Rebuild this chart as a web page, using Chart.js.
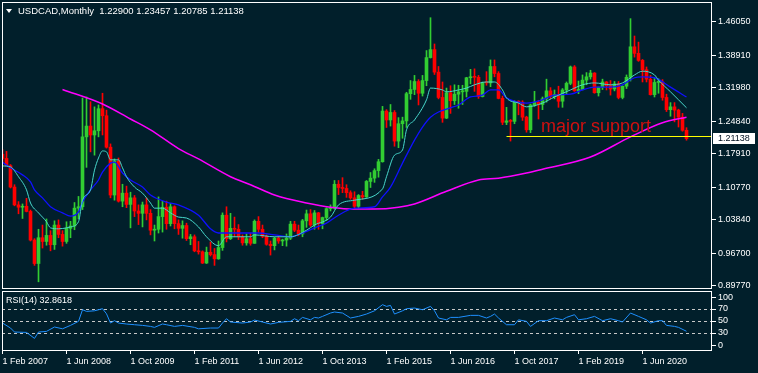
<!DOCTYPE html>
<html>
<head>
<meta charset="utf-8">
<script src="https://cdn.jsdelivr.net/npm/chart.js@4.4.1/dist/chart.umd.min.js"></script>
<style>
  html, body { margin: 0; padding: 0; background: #011f2b; }
  #wrap { position: relative; width: 758px; height: 373px; overflow: hidden; }
  #mainBox { position: absolute; left: 0; top: 0; width: 758px; height: 290px; }
  #rsiBox { position: absolute; left: 0; top: 290px; width: 758px; height: 83px; }
</style>
</head>
<body>
<div id="wrap">
  <div id="mainBox"><canvas id="priceChart"></canvas></div>
  <div id="rsiBox"><canvas id="rsiChart"></canvas></div>
</div>
<script>
// USDCAD monthly, Feb 2007 .. May 2021 (one value per month)
const opens = [
  1.1780,1.1690,1.1535,1.1080,1.0700,1.0650,1.0670,1.0560,0.9950,0.9450,1.0000,
  0.9920,1.0050,0.9850,1.0270,1.0070,0.9920,1.0200,1.0250,1.0630,1.0660,1.2150,1.2380,
  1.2190,1.2280,1.2750,1.2600,1.1930,1.0910,1.1630,1.0780,1.0950,1.0710,1.0850,1.0570,
  1.0520,1.0700,1.0520,1.0160,1.0180,1.0450,1.0650,1.0300,1.0660,1.0300,1.0200,1.0260,
  0.9980,1.0020,0.9720,0.9700,0.9460,0.9690,0.9640,0.9550,0.9790,1.0480,0.9980,1.0200,
  1.0180,1.0020,0.9890,0.9980,0.9880,1.0350,1.0180,1.0030,0.9860,0.9830,0.9990,0.9930,
  0.9950,0.9990,1.0290,1.0160,1.0080,1.0360,1.0510,1.0270,1.0530,1.0300,1.0430,1.0620,
  1.0630,1.1140,1.1070,1.1050,1.0960,1.0850,1.0670,1.0900,1.0870,1.1200,1.1270,1.1430,
  1.1620,1.2700,1.2510,1.2670,1.2060,1.2430,1.2490,1.3070,1.3160,1.3330,1.3080,1.3350,
  1.3840,1.4010,1.3530,1.2990,1.2550,1.3090,1.2920,1.3060,1.3110,1.3120,1.3410,1.3430,
  1.3420,1.3010,1.3310,1.3300,1.3650,1.3500,1.2970,1.2460,1.2490,1.2480,1.2900,1.2890,
  1.2570,1.2300,1.2830,1.2890,1.2840,1.2960,1.3130,1.3010,1.3050,1.2910,1.3150,1.3290,
  1.3640,1.3130,1.3160,1.3360,1.3430,1.3510,1.3090,1.3210,1.3320,1.3240,1.3170,1.3280,
  1.2990,1.3230,1.3420,1.4070,1.3930,1.3780,1.3580,1.3380,1.3050,1.3310,1.3320,1.2990,
  1.2730,1.2790,1.2720,1.2570,1.22900
];
const highs = [
  1.1877,1.1840,1.1560,1.1130,1.0770,1.0720,1.0840,1.0590,0.9980,1.0180,1.0270,
  1.0400,1.0150,1.0360,1.0380,1.0150,1.0340,1.0350,1.0750,1.0880,1.2980,1.3000,1.2900,
  1.2790,1.2830,1.3080,1.2720,1.2000,1.1680,1.1700,1.1140,1.1100,1.0970,1.0900,1.0700,
  1.0760,1.0850,1.0600,1.0270,1.0870,1.0780,1.0780,1.0730,1.0680,1.0380,1.0360,1.0310,
  1.0070,1.0060,0.9920,0.9720,0.9800,0.9910,0.9770,0.9930,1.0530,1.0660,1.0520,1.0440,
  1.0280,1.0060,1.0080,1.0100,1.0380,1.0450,1.0270,1.0060,0.9930,1.0010,1.0050,0.9970,
  1.0080,1.0350,1.0350,1.0270,1.0390,1.0590,1.0600,1.0580,1.0540,1.0440,1.0640,1.0700,
  1.1220,1.1220,1.1280,1.1130,1.1000,1.0980,1.0920,1.0990,1.1220,1.1390,1.1470,1.1670,
  1.2800,1.2730,1.2840,1.2710,1.2560,1.2570,1.3100,1.3350,1.3460,1.3370,1.3460,1.3990,
  1.4690,1.4130,1.3650,1.3320,1.3190,1.3240,1.3260,1.3250,1.3250,1.3420,1.3590,1.3600,
  1.3460,1.3320,1.3540,1.3790,1.3790,1.3540,1.3020,1.2780,1.2520,1.2920,1.2920,1.2920,
  1.2590,1.2850,1.3120,1.2930,1.3000,1.3380,1.3200,1.3150,1.3230,1.3180,1.3320,1.3660,
  1.3670,1.3340,1.3470,1.3520,1.3570,1.3520,1.3210,1.3380,1.3330,1.3350,1.3330,1.3330,
  1.3240,1.3470,1.4670,1.4300,1.4170,1.3800,1.3640,1.3460,1.3420,1.3390,1.3370,1.3060,
  1.2880,1.2880,1.2740,1.2650,1.23457
];
const lows = [
  1.1585,1.1530,1.1060,1.0680,1.0510,1.0410,1.0550,0.9930,0.9410,0.9060,0.9780,
  0.9840,0.9720,0.9750,1.0000,0.9820,0.9880,1.0000,1.0170,1.0400,1.0600,1.1500,1.1830,
  1.1760,1.2150,1.2190,1.1910,1.0850,1.0800,1.0760,1.0660,1.0640,1.0210,1.0450,1.0280,
  1.0230,1.0380,1.0060,0.9930,1.0100,1.0120,1.0180,1.0250,1.0190,1.0070,0.9990,0.9940,
  0.9850,0.9700,0.9650,0.9450,0.9450,0.9610,0.9410,0.9540,0.9730,0.9910,0.9960,1.0020,
  0.9960,0.9840,0.9840,0.9840,0.9880,1.0110,1.0000,0.9840,0.9630,0.9740,0.9880,0.9830,
  0.9820,0.9960,1.0130,1.0040,1.0020,1.0220,1.0240,1.0180,1.0180,1.0190,1.0370,1.0570,
  1.0610,1.0920,1.0960,1.0860,1.0820,1.0620,1.0620,1.0820,1.0860,1.1070,1.1180,1.1290,
  1.1610,1.2350,1.2380,1.1950,1.1920,1.2120,1.2350,1.2950,1.3050,1.2830,1.3020,1.3240,
  1.3830,1.3480,1.2960,1.2460,1.2540,1.2650,1.2840,1.2760,1.2840,1.3000,1.3280,1.3120,
  1.2970,1.3000,1.3250,1.3220,1.3430,1.2960,1.2410,1.2410,1.2060,1.2430,1.2620,1.2500,
  1.2250,1.2240,1.2800,1.2530,1.2730,1.2890,1.2960,1.2960,1.2780,1.2780,1.3050,1.3260,
  1.3120,1.3070,1.3150,1.3260,1.3380,1.3080,1.3020,1.3160,1.3150,1.3040,1.3130,1.2960,
  1.2960,1.3180,1.3340,1.3850,1.3760,1.3320,1.3320,1.3040,1.3000,1.3080,1.2930,1.2690,
  1.2590,1.2470,1.2360,1.2270,1.20785
];
const closes = [
  1.1690,1.1535,1.1080,1.0700,1.0650,1.0670,1.0560,0.9950,0.9450,1.0000,0.9920,
  1.0050,0.9850,1.0270,1.0070,0.9920,1.0200,1.0250,1.0630,1.0660,1.2150,1.2380,1.2190,
  1.2280,1.2750,1.2600,1.1930,1.0910,1.1630,1.0780,1.0950,1.0710,1.0850,1.0570,1.0520,
  1.0700,1.0520,1.0160,1.0180,1.0450,1.0650,1.0300,1.0660,1.0300,1.0200,1.0260,0.9980,
  1.0020,0.9720,0.9700,0.9460,0.9690,0.9640,0.9550,0.9790,1.0480,0.9980,1.0200,1.0180,
  1.0020,0.9890,0.9980,0.9880,1.0350,1.0180,1.0030,0.9860,0.9830,0.9990,0.9930,0.9950,
  0.9990,1.0290,1.0160,1.0080,1.0360,1.0510,1.0270,1.0530,1.0300,1.0430,1.0620,1.0630,
  1.1140,1.1070,1.1050,1.0960,1.0850,1.0670,1.0900,1.0870,1.1200,1.1270,1.1430,1.1620,
  1.2700,1.2510,1.2670,1.2060,1.2430,1.2490,1.3070,1.3160,1.3330,1.3080,1.3350,1.3840,
  1.4010,1.3530,1.2990,1.2550,1.3090,1.2920,1.3060,1.3110,1.3120,1.3410,1.3430,1.3420,
  1.3010,1.3310,1.3300,1.3650,1.3500,1.2970,1.2460,1.2490,1.2480,1.2900,1.2890,1.2570,
  1.2300,1.2830,1.2890,1.2840,1.2960,1.3130,1.3010,1.3050,1.2910,1.3150,1.3290,1.3640,
  1.3130,1.3160,1.3360,1.3430,1.3510,1.3090,1.3210,1.3320,1.3240,1.3170,1.3280,1.2990,
  1.3230,1.3420,1.4070,1.3930,1.3780,1.3580,1.3380,1.3050,1.3310,1.3320,1.2990,1.2730,
  1.2790,1.2720,1.2570,1.2290,1.21138
];

// moving averages: [month index, value]
const fastMA = [
  [0,1.153],[2,1.151],[4,1.130],[6,1.102],[7,1.074],[9,1.053],[11,1.034],[12,1.021],[14,1.019],
  [16,1.021],[17,1.023],[19,1.034],[20,1.080],[22,1.102],[23,1.144],[24,1.170],[25,1.185],[26,1.183],
  [27,1.166],[29,1.166],[30,1.149],[31,1.130],[33,1.108],[35,1.095],[37,1.074],[38,1.063],[40,1.063],
  [42,1.053],[44,1.044],[46,1.042],[49,1.023],[51,1.002],[54,0.983],[56,1.002],[59,1.002],[62,1.002],
  [63,1.006],[68,1.002],[72,1.002],[76,1.016],[78,1.027],[82,1.044],[84,1.070],[88,1.080],[95,1.104],
  [96,1.130],[98,1.176],[100,1.187],[101,1.230],[103,1.251],[106,1.294],[107,1.319],[110,1.315],
  [111,1.311],[114,1.315],[116,1.319],[118,1.326],[121,1.332],[123,1.332],[125,1.315],[126,1.298],
  [129,1.287],[131,1.279],[135,1.287],[138,1.300],[142,1.315],[145,1.326],[148,1.330],[152,1.326],
  [155,1.330],[158,1.347],[160,1.355],[163,1.347],[164,1.336],[167,1.311],[169,1.294],[171,1.277]
];
const slowMA = [
  [0,1.161],[2,1.149],[5,1.134],[7,1.119],[8,1.102],[10,1.085],[12,1.066],[15,1.053],[17,1.046],
  [19,1.055],[20,1.076],[22,1.102],[24,1.123],[25,1.140],[27,1.159],[28,1.161],[30,1.138],[32,1.123],
  [35,1.108],[37,1.091],[41,1.076],[44,1.070],[49,1.048],[52,1.019],[54,1.010],[57,1.010],[62,1.010],
  [64,1.010],[68,1.006],[72,1.002],[75,1.010],[78,1.021],[81,1.031],[84,1.048],[88,1.063],[93,1.066],
  [95,1.087],[97,1.108],[100,1.159],[103,1.208],[105,1.236],[107,1.257],[109,1.268],[112,1.277],
  [114,1.283],[117,1.300],[120,1.304],[122,1.315],[124,1.315],[126,1.298],[131,1.287],[135,1.294],
  [138,1.304],[142,1.306],[145,1.315],[148,1.321],[152,1.321],[155,1.326],[158,1.341],[160,1.343],
  [163,1.341],[167,1.321],[171,1.300]
];
const longMA = [
  [15,1.316],[25,1.285],[32,1.253],[37,1.230],[44,1.190],[49,1.168],[57,1.130],[62,1.113],[68,1.091],
  [76,1.074],[82,1.065],[88,1.061],[93,1.061],[99,1.065],[103,1.072],[111,1.099],[119,1.123],
  [124,1.127],[131,1.138],[135,1.146],[147,1.172],[157,1.215],[165,1.245],[171,1.257]
];

// RSI(14): [month index, value]
const rsiValues = [
  [0,46.6],[2,38.3],[3,31.6],[6,31],[8,21],[9,31.6],[11,32.7],[13,40],[15,37],[17,42.7],[19,49.4],
  [20,68.8],[21,66],[23,67],[25,70.5],[26,62],[27,46.6],[28,50.5],[29,46.6],[31,45],[33,43.8],
  [35,42.7],[37,41],[38,39.4],[40,45],[41,43.8],[43,41],[45,42.7],[48,39.4],[49,37],[52,38.3],
  [54,38.3],[55,46.6],[56,53.8],[57,48.3],[60,46.6],[62,48.3],[63,51.6],[65,48.3],[67,45],[69,47.7],
  [72,49.4],[73,53.8],[74,50.5],[75,56],[77,52],[78,56],[79,55],[80,57.7],[82,63.3],[83,65],
  [85,63.3],[87,55],[89,57.7],[91,61.6],[93,67],[95,77.2],[96,74.4],[97,76],[98,61.6],[100,67],
  [101,70.5],[103,71.6],[105,68.8],[107,74.4],[108,67],[109,55],[111,52],[112,56],[114,56],
  [117,59.4],[119,59.4],[121,55],[122,57.7],[123,61.6],[124,55],[126,43.8],[128,43.8],[129,52],
  [131,49.4],[132,41],[134,50.5],[136,50.5],[138,55],[140,52],[141,56],[143,60.5],[144,52],
  [146,53.8],[148,57.7],[150,50.5],[152,53.8],[154,50.5],[155,48.3],[157,63.3],[159,57.7],
  [161,52],[162,46.6],[164,50.5],[165,50.5],[166,42.7],[168,41],[169,39.4],[171,32.8618]
];

const priceTicks = [0.89770, 0.96700, 1.03840, 1.10770, 1.17910, 1.24840, 1.31980, 1.38910, 1.46050];
const rsiTicks = ['100', '70', '50', '30', '0'];
const rsiLevels = [70, 50, 30];
const dateTicks = ['1 Feb 2007', '1 Jun 2008', '1 Oct 2009', '1 Feb 2011', '1 Jun 2012', '1 Oct 2013',
  '1 Feb 2015', '1 Jun 2016', '1 Oct 2017', '1 Feb 2019', '1 Jun 2020'];
const supportLevel = 1.2160;
const supportFrom = 126;

const UP = '#32cd32', DOWN = '#ff0000';
const FONT = 'Liberation Sans';

const candleColors = closes.map((c, i) => c >= opens[i] ? UP : DOWN);
const pts = arr => arr.map(p => ({x: p[0], y: p[1]}));

// x scale: 4px per month, same for both panels
const xMin = -0.125, xMax = 177.375;

// fixed axis sizes, no label overhang padding
const fixWidth = s => { s.width = 46; s.paddingTop = 0; s.paddingBottom = 0; };

// draws the white box around a plot area
const frame = {
  id: 'frame',
  afterDraw(chart) {
    const {ctx, chartArea: a} = chart;
    ctx.save();
    ctx.strokeStyle = '#ffffff';
    ctx.lineWidth = 1;
    ctx.strokeRect(a.left + 0.5, a.top + 0.5, a.right - a.left - 1, a.bottom - a.top - 1);
    ctx.restore();
  }
};

const priceExtras = {
  id: 'priceExtras',
  afterDatasetsDraw(chart) {
    const {ctx, chartArea: a, scales} = chart;
    const y = Math.round(scales.y.getPixelForValue(supportLevel)) + 0.5;
    const x0 = scales.x.getPixelForValue(supportFrom);
    ctx.save();
    ctx.strokeStyle = '#ffff00';
    ctx.lineWidth = 1;
    ctx.beginPath();
    ctx.moveTo(x0, y);
    ctx.lineTo(a.right, y);
    ctx.stroke();

    ctx.fillStyle = '#d01010';
    ctx.font = '18px "' + FONT + '"';
    ctx.textBaseline = 'alphabetic';
    ctx.fillText('major support', 541, 132);

    // title
    ctx.fillStyle = '#ffffff';
    ctx.beginPath();
    ctx.moveTo(6, 9); ctx.lineTo(12, 9); ctx.lineTo(9, 13); ctx.closePath();
    ctx.fill();
    ctx.font = '9.5px "' + FONT + '"';
    ctx.fillText('USDCAD,Monthly  ' + [opens, highs, lows, closes].map(s => s[s.length - 1].toFixed(5)).join(' '), 18, 14);
    ctx.restore();
  },
  afterDraw(chart) {
    const {ctx, scales} = chart;
    const last = closes[closes.length - 1];
    const y = Math.round(scales.y.getPixelForValue(last)) - 1;
    ctx.save();
    ctx.fillStyle = '#ffffff';
    ctx.fillRect(713, y - 5, 42, 11);
    ctx.fillStyle = '#001020';
    ctx.font = '9px "' + FONT + '"';
    ctx.textBaseline = 'middle';
    ctx.fillText(last.toFixed(5), 718, y + 1);
    ctx.restore();
  }
};

new Chart(document.getElementById('priceChart'), {
  type: 'bar',
  data: {
    datasets: [
      {
        type: 'line', label: 'fast', data: pts(fastMA), borderColor: '#48d8cc', borderWidth: 1,
        pointRadius: 0, cubicInterpolationMode: 'monotone', order: 0
      },
      {
        type: 'line', label: 'slow', data: pts(slowMA), borderColor: '#1010ff', borderWidth: 1.3,
        pointRadius: 0, cubicInterpolationMode: 'monotone', order: 0
      },
      {
        type: 'line', label: 'long', data: pts(longMA), borderColor: '#ff00ff', borderWidth: 1.5,
        pointRadius: 0, cubicInterpolationMode: 'monotone', order: 0
      },
      {
        label: 'body', data: opens.map((o, i) => ({x: i, y: [o, closes[i]]})),
        backgroundColor: candleColors, barThickness: 3, minBarLength: 1, grouped: false, order: 1
      },
      {
        label: 'wick', data: lows.map((l, i) => ({x: i, y: [l, highs[i]]})),
        backgroundColor: candleColors, barThickness: 1, grouped: false, order: 2
      }
    ]
  },
  options: {
    responsive: true,
    maintainAspectRatio: false,
    animation: false,
    devicePixelRatio: 1,
    layout: { padding: { left: 2, top: 2, right: 0, bottom: 1 } },
    plugins: { legend: { display: false }, tooltip: { enabled: false } },
    scales: {
      x: { type: 'linear', min: xMin, max: xMax, offset: false, display: false },
      y: {
        position: 'right',
        min: 0.89067,
        max: 1.50249,
        afterFit: fixWidth,
        afterBuildTicks: s => { s.ticks = priceTicks.map(v => ({value: v})); },
        ticks: {
          color: '#ffffff', padding: 2, font: { family: FONT, size: 9 },
          callback: v => Number(v).toFixed(5)
        },
        grid: { drawOnChartArea: false, tickLength: 4, color: '#ffffff' },
        border: { display: false }
      }
    }
  },
  plugins: [frame, priceExtras]
});

const rsiExtras = {
  id: 'rsiExtras',
  beforeDatasetsDraw(chart) {
    const {ctx, chartArea: a, scales} = chart;
    ctx.save();
    ctx.strokeStyle = '#c8c8c8';
    ctx.lineWidth = 1;
    ctx.setLineDash([3, 3]);
    rsiLevels.forEach(v => {
      const y = Math.round(scales.y.getPixelForValue(v)) + 0.5;
      ctx.beginPath();
      ctx.moveTo(a.left, y);
      ctx.lineTo(a.right, y);
      ctx.stroke();
    });
    ctx.restore();
  },
  afterDraw(chart) {
    const {ctx} = chart;
    const last = rsiValues[rsiValues.length - 1][1];
    ctx.save();
    ctx.fillStyle = '#ffffff';
    ctx.font = '9px "' + FONT + '"';
    ctx.fillText('RSI(14) ' + last.toFixed(4), 6, 13);
    ctx.restore();
  }
};

new Chart(document.getElementById('rsiChart'), {
  type: 'line',
  data: {
    datasets: [{
      label: 'RSI(14)', data: pts(rsiValues), borderColor: '#1e90ff', borderWidth: 1,
      pointRadius: 0, tension: 0
    }]
  },
  options: {
    responsive: true,
    maintainAspectRatio: false,
    animation: false,
    devicePixelRatio: 1,
    layout: { padding: { left: 2, top: 1, right: 0, bottom: 0 } },
    plugins: { legend: { display: false }, tooltip: { enabled: false } },
    scales: {
      x: {
        type: 'linear', min: xMin, max: xMax, offset: false,
        afterFit: s => { s.height = 22; s.paddingLeft = 0; s.paddingRight = 0; },
        afterBuildTicks: s => { s.ticks = dateTicks.map((t, k) => ({value: k * 16})); },
        ticks: {
          color: '#ffffff', align: 'start', maxRotation: 0, autoSkip: false, padding: 2,
          font: { family: FONT, size: 9 },
          callback: (v, k) => dateTicks[k]
        },
        grid: { drawOnChartArea: false, tickLength: 3, color: '#ffffff' },
        border: { display: false }
      },
      y: {
        position: 'right', min: 0, max: 100,
        afterFit: fixWidth,
        afterBuildTicks: s => { s.ticks = [89.5, 70, 50, 30, 9.5].map(v => ({value: v})); },
        ticks: {
          color: '#ffffff', padding: 2, font: { family: FONT, size: 9 },
          callback: (v, k) => rsiTicks[k]
        },
        grid: { drawOnChartArea: false, tickLength: 4, color: '#ffffff' },
        border: { display: false }
      }
    }
  },
  plugins: [frame, rsiExtras]
});
</script>
</body>
</html>
